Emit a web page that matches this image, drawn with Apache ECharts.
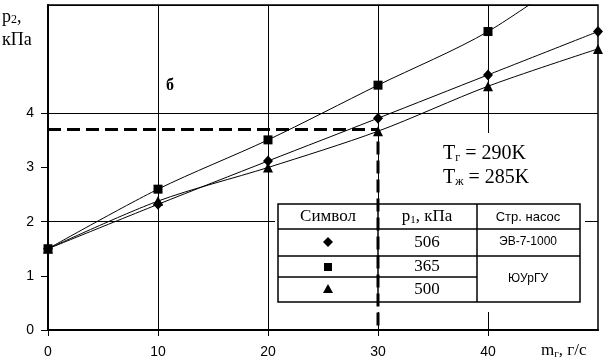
<!DOCTYPE html>
<html>
<head>
<meta charset="utf-8">
<script src="https://cdn.jsdelivr.net/npm/echarts@6/dist/echarts.min.js"></script>
<style>
  html, body { margin: 0; padding: 0; background: #fff; }
  #chart { width: 603px; height: 362px; }
</style>
</head>
<body>
<div id="chart"></div>
<script>
// данные
const massFlow = [0, 10, 20, 30, 40, 50];                // m_г, г/с
const p2Diamond = [1.5, 2.32, 3.12, 3.91, 4.71, 5.51];  // p1 = 506 кПа, ЭВ-7-1000
const p2Square = [1.5, 2.6, 3.51, 4.52, 5.51, 6.9];     // p1 = 365 кПа, ЮУрГУ
const p2Triangle = [1.5, 2.38, 3.0, 3.67, 4.5, 5.19];   // p1 = 500 кПа, ЮУрГУ
const guideX = [0, 30, 30];
const guideY = [3.7, 3.7, 0];
const xTicks = [0, 10, 20, 30, 40];
const yTicks = [0, 1, 2, 3, 4];

const SERIF = '"Liberation Serif", "Times New Roman", serif';
const SANS = '"Liberation Sans", Arial, sans-serif';

function pairs(xs, ys) {
    return xs.map((x, i) => [x, ys[i]]);
}

function lineSeries(name, values, symbol, size) {
    return {
        name: name,
        type: 'line',
        smooth: 0.3,
        data: pairs(massFlow, values),
        symbol: symbol,
        symbolSize: size,
        itemStyle: { color: '#000' },
        lineStyle: { color: '#000', width: 1 },
        z: 3
    };
}

// простой текст по центру
function cellText(text, cx, cy, font) {
    return {
        type: 'text', x: cx, y: cy, z: 2,
        style: { text: text, font: font, fill: '#000', align: 'center', verticalAlign: 'middle' }
    };
}

// текст с нижним индексом
function subText(main, sub, rest, x, y, size, subSize, align) {
    return {
        type: 'text', x: x, y: y, z: 2,
        style: {
            text: '{n|' + main + '}{s|' + sub + '}{n|' + rest + '}', fill: '#000',
            align: align || 'left', verticalAlign: 'middle',
            rich: {
                n: { fontFamily: SERIF, fontSize: size },
                s: { fontFamily: SERIF, fontSize: subSize, verticalAlign: 'bottom' }
            }
        }
    };
}

// таблица-легенда
const rowY = [204, 229, 256, 277, 302];
const colX = [278, 378, 477, 580];
const tblLine = { stroke: '#000', lineWidth: 1.5 };

const tableGraphics = [
    // белая подложка под таблицей и подписью температур
    { type: 'rect', shape: { x: 275, y: 201, width: 310, height: 111 }, style: { fill: '#fff' }, z: 1 },
    { type: 'rect', shape: { x: 400, y: 133, width: 185, height: 70 }, style: { fill: '#fff' }, z: 1 },
    { type: 'rect', shape: { x: colX[0], y: rowY[0], width: colX[3] - colX[0], height: rowY[4] - rowY[0] }, style: { fill: 'none', stroke: '#000', lineWidth: 1.5 }, z: 2 },
    { type: 'line', shape: { x1: colX[1], y1: rowY[0], x2: colX[1], y2: rowY[4] }, style: tblLine, z: 2 },
    { type: 'line', shape: { x1: colX[2], y1: rowY[0], x2: colX[2], y2: rowY[4] }, style: tblLine, z: 2 },
    { type: 'line', shape: { x1: colX[0], y1: rowY[1], x2: colX[3], y2: rowY[1] }, style: tblLine, z: 2 },
    { type: 'line', shape: { x1: colX[0], y1: rowY[2], x2: colX[3], y2: rowY[2] }, style: tblLine, z: 2 },
    { type: 'line', shape: { x1: colX[0], y1: rowY[3], x2: colX[2], y2: rowY[3] }, style: tblLine, z: 2 },

    cellText('Символ', 328, 217, '17px ' + SERIF),
    subText('p', '1', ', кПа', 427, 217, 17, 11, 'center'),
    cellText('Стр. насос', 528, 217, '13px ' + SANS),
    cellText('506', 427, 243, '17px ' + SERIF),
    cellText('365', 427, 267, '17px ' + SERIF),
    cellText('500', 427, 290, '17px ' + SERIF),
    cellText('ЭВ-7-1000', 528, 242, '12px ' + SANS),
    cellText('ЮУрГУ', 528, 279, '12px ' + SANS),

    // значки в первой колонке
    { type: 'polygon', z: 2, shape: { points: [[328, 237], [333, 242], [328, 247], [323, 242]] }, style: { fill: '#000' } },
    { type: 'rect', z: 2, shape: { x: 324, y: 263, width: 8, height: 8 }, style: { fill: '#000' } },
    { type: 'polygon', z: 2, shape: { points: [[328, 284], [333, 293], [323, 293]] }, style: { fill: '#000' } }
];

// подписи осей и пояснения
const labelGraphics = [
    cellText('б', 170, 86, 'bold 16px ' + SERIF),
    subText('T', 'г', ' = 290K', 443, 154, 20, 12),
    subText('T', 'ж', ' = 285K', 443, 178, 20, 12),
    subText('p', '2', ',', 2, 17, 18, 12),
    { type: 'text', x: 2, y: 40, z: 2, style: { text: 'кПа', font: '18px ' + SERIF, fill: '#000', verticalAlign: 'middle' } },
    subText('m', 'г', ', г/с', 541, 351, 17, 11)
];

const chart = echarts.init(document.getElementById('chart'));

chart.setOption({
    animation: false,
    backgroundColor: '#fff',
    grid: {
        left: 48, right: 5, top: 5, bottom: 32,
        show: true, borderColor: '#000', borderWidth: 1.5
    },
    xAxis: {
        type: 'value', min: 0, max: 50, interval: 10,
        axisLine: { show: true, onZero: false, lineStyle: { color: '#000', width: 2 } },
        axisTick: { show: true, length: 6, lineStyle: { color: '#000' }, customValues: xTicks },
        axisLabel: { customValues: xTicks, color: '#000', fontFamily: SANS, fontSize: 14, margin: 15 },
        splitLine: { show: true, lineStyle: { color: '#000', width: 1 } }
    },
    yAxis: [{
        type: 'value', min: 0, max: 6, interval: 1,
        axisLine: { show: true, onZero: false, lineStyle: { color: '#000', width: 2 } },
        axisTick: { show: true, length: 7, lineStyle: { color: '#000' }, customValues: yTicks },
        axisLabel: { customValues: yTicks, color: '#000', fontFamily: SANS, fontSize: 14, margin: 14 },
        splitLine: { show: false }
    }, {
        // сетка только через 2 кПа
        type: 'value', min: 0, max: 6, interval: 2, position: 'left',
        axisLine: { show: false }, axisTick: { show: false }, axisLabel: { show: false },
        splitLine: { show: true, lineStyle: { color: '#000', width: 1 } }
    }],
    series: [
        lineSeries('506', p2Diamond, 'diamond', [10, 11]),
        lineSeries('365', p2Square, 'rect', 9),
        lineSeries('500', p2Triangle, 'triangle', 10),
        {
            name: 'guide', type: 'line', data: pairs(guideX, guideY),
            symbol: 'none', z: 4,
            lineStyle: { color: '#000', width: 3, type: [13, 6] }
        }
    ],
    graphic: { elements: tableGraphics.concat(labelGraphics) }
});
</script>
</body>
</html>
